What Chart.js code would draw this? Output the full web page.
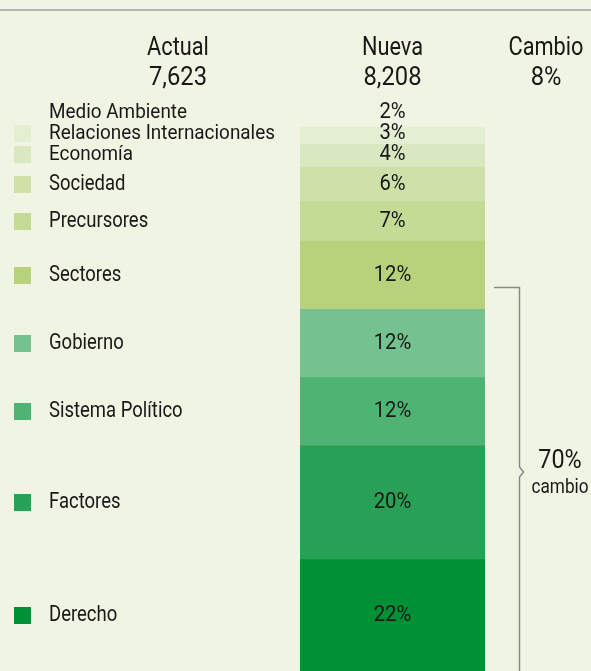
<!DOCTYPE html>
<html lang="es">
<head>
<meta charset="UTF-8">
<title>Cambio</title>
<script src="https://cdn.jsdelivr.net/npm/chart.js"></script>
<style>
  html, body { margin: 0; padding: 0; background: #f0f4e2; }
  canvas { display: block; }
</style>
</head>
<body>
<canvas id="cambioChart" width="591" height="671"></canvas>
<script>
// data, bottom segment first
const categories = ['Derecho', 'Factores', 'Sistema Político', 'Gobierno', 'Sectores',
                    'Precursores', 'Sociedad', 'Economía', 'Relaciones Internacionales', 'Medio Ambiente'];
const shares = [22, 20, 12, 12, 12, 7, 6, 4, 3, 2];
const colors = ['#009035', '#28a055', '#4fb473', '#73c290', '#b7d27b',
                '#c3db94', '#cee1a9', '#d9e8c0', '#e4eed2', '#f0f4e2'];

const headerTitles = ['Actual', 'Nueva', 'Cambio'];
const headerValues = ['7,623', '8,208', '8%'];

const bracketShare = 70;   // top of the bracket, counted from the bottom
const bracketText = ['70%', 'cambio'];

const FONT = 'Roboto, "DejaVu Sans Condensed", sans-serif';
const INK = '#181818';

// no condensed face is installed, so squeeze the text horizontally
function narrowText(ctx, text, x, y, size, sx, align) {
    ctx.save();
    ctx.font = size + 'px ' + FONT;
    ctx.textAlign = align;
    ctx.translate(x, y);
    ctx.scale(sx, 1);
    ctx.fillText(text, 0, 0);
    ctx.restore();
}

const overlay = {
    id: 'overlay',
    afterDatasetsDraw(chart) {
        const ctx = chart.ctx;
        const area = chart.chartArea;
        const y = chart.scales.y;
        ctx.save();

        // grey rule at the top
        ctx.strokeStyle = '#b4b4b2';
        ctx.lineWidth = 2;
        ctx.beginPath();
        ctx.moveTo(0, 10);
        ctx.lineTo(591, 10);
        ctx.stroke();

        // header
        const barMeta = chart.getDatasetMeta(0).data[0];
        const headX = [178, barMeta.x, 546];
        ctx.fillStyle = INK;
        ctx.textBaseline = 'alphabetic';
        headerTitles.forEach((t, i) => narrowText(ctx, t, headX[i], 55, 25, 0.87, 'center'));
        headerValues.forEach((t, i) => narrowText(ctx, t, headX[i], 85, 25, 0.95, 'center'));

        // labels inside the bar and legend on the left
        let prevCy = Infinity;
        categories.forEach((name, i) => {
            const bar = chart.getDatasetMeta(i).data[0];
            const top = bar.y;
            const bottom = Math.min(bar.base, area.bottom);
            const thin = (bottom - top) < 30;
            // keep labels of thin segments from running into each other
            const cy = Math.min((top + bottom) / 2 - (thin ? 1 : 0), prevCy - 21);
            prevCy = cy;

            ctx.textBaseline = 'middle';
            ctx.fillStyle = INK;
            narrowText(ctx, shares[i] + '%', bar.x, cy, 22, 0.92, 'center');

            ctx.fillStyle = colors[i];
            ctx.fillRect(14, Math.round(cy - 8.5), 17, 17);

            ctx.fillStyle = INK;
            narrowText(ctx, name, 49, cy, thin ? 21 : 22, thin ? 0.9 : 0.84, 'left');
        });

        // bracket
        const bx = 519.5;
        const bTop = Math.round(y.getPixelForValue(bracketShare)) + 0.5;
        const mid = Math.round(bTop + (area.bottom - bTop) * 0.48);
        ctx.strokeStyle = '#8a8a8a';
        ctx.lineWidth = 1.5;
        ctx.beginPath();
        ctx.moveTo(494, bTop);
        ctx.lineTo(bx, bTop);
        ctx.lineTo(bx, mid - 5);
        ctx.lineTo(bx + 4, mid);
        ctx.lineTo(bx, mid + 5);
        ctx.lineTo(bx, area.bottom + 2);
        ctx.stroke();

        ctx.fillStyle = INK;
        ctx.textBaseline = 'alphabetic';
        narrowText(ctx, bracketText[0], 560, mid - 4, 26, 0.9, 'center');
        narrowText(ctx, bracketText[1], 560, mid + 21, 20, 0.86, 'center');

        ctx.restore();
    }
};

const ctx = document.getElementById('cambioChart').getContext('2d');
new Chart(ctx, {
    type: 'bar',
    data: {
        labels: ['Nueva'],
        datasets: categories.map((c, i) => ({
            label: c,
            data: [shares[i]],
            backgroundColor: colors[i],
            borderWidth: 0,
            barPercentage: 1,
            categoryPercentage: 1
        }))
    },
    options: {
        responsive: false,
        animation: false,
        devicePixelRatio: 1,
        layout: { padding: { top: 116, left: 300, right: 106, bottom: 0 } },
        plugins: { legend: { display: false }, tooltip: { enabled: false } },
        scales: {
            x: { display: false, stacked: true },
            y: { display: false, stacked: true, min: 2.4, max: 100 }
        }
    },
    plugins: [overlay]
});
</script>
</body>
</html>
